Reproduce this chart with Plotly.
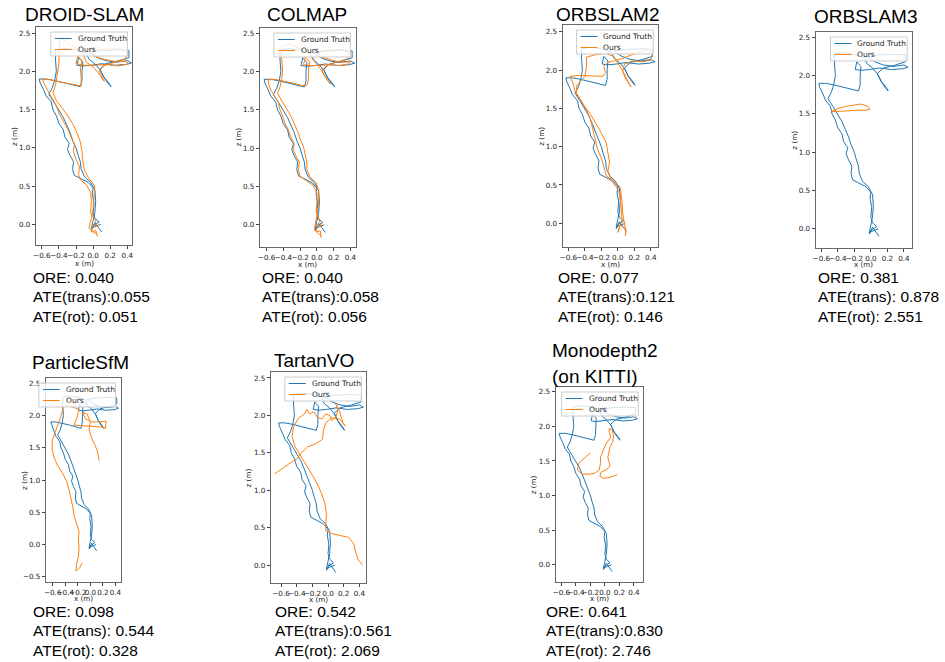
import plotly.graph_objects as go

# ---------------- data ----------------
# Ground-truth camera trajectory (x, z) in metres, shared by every panel
GT_X = [0.10, 0.06, 0.02, -0.02, 0.00, 0.07, 0.02, 0.00, 0.01, -0.01, 0.00, -0.06, -0.14, -0.22, -0.24, -0.23,
        -0.27, -0.30, -0.28, -0.33, -0.35, -0.40, -0.43, -0.47, -0.49, -0.55, -0.58, -0.62, -0.63, -0.55, -0.45,
        -0.33, -0.22, -0.15, -0.13, -0.13, -0.12, -0.17, -0.19, -0.12, -0.02, 0.10, 0.25, 0.38, 0.45, 0.40, 0.28,
        0.15, 0.05, -0.05, 0.10, 0.30, 0.42, 0.42, 0.30, 0.15, 0.08, 0.12, 0.17, 0.21, 0.19, 0.13, 0.08, 0.02,
        -0.05, -0.08, -0.20, -0.35, -0.44, -0.44, -0.43, -0.45, -0.48, -0.52, -0.46, -0.40, -0.35, -0.31, -0.27,
        -0.24, -0.20, -0.18, -0.15, -0.14, -0.10, -0.03, 0.02, 0.03, 0.02, 0.00, -0.02, 0.04, 0.09]
GT_Z = [-0.10, -0.04, 0.02, -0.07, -0.02, 0.03, 0.08, 0.15, 0.28, 0.40, 0.48, 0.55, 0.60, 0.64, 0.72, 0.82,
        0.90, 0.98, 1.06, 1.14, 1.24, 1.32, 1.42, 1.50, 1.60, 1.68, 1.76, 1.85, 1.90, 1.90, 1.88,
        1.85, 1.82, 1.80, 1.88, 2.00, 2.12, 2.18, 2.08, 2.07, 2.08, 2.10, 2.08, 2.09, 2.11, 2.14, 2.12,
        2.14, 2.18, 2.25, 2.27, 2.28, 2.27, 2.18, 2.14, 2.10, 2.03, 1.93, 1.85, 1.80, 1.84, 1.92, 2.02, 2.10,
        2.16, 2.24, 2.28, 2.30, 2.28, 2.15, 2.00, 1.88, 1.78, 1.70, 1.60, 1.50, 1.40, 1.30, 1.20,
        1.10, 1.00, 0.92, 0.82, 0.72, 0.62, 0.55, 0.45, 0.30, 0.15, 0.05, -0.05, -0.02, 0.00]

# Estimated trajectories ("Ours") per method
DROID_X = [0.05, 0.03, -0.02, 0.00, 0.05, 0.02, -0.03, -0.02, -0.03, -0.08, -0.14, -0.17, -0.16, -0.20, -0.23,
           -0.22, -0.26, -0.30, -0.35, -0.40, -0.43, -0.48, -0.53, -0.58, -0.59, -0.50, -0.38, -0.25, -0.14,
           -0.14, -0.15, -0.13, -0.18, -0.20, -0.10, 0.02, 0.15, 0.30, 0.42, 0.38, 0.25, 0.12, 0.02, -0.03, 0.12,
           0.32, 0.40, 0.38, 0.25, 0.12, 0.07, 0.10, 0.13, 0.11, 0.06, 0.00, -0.08, -0.12, -0.28, -0.38, -0.40,
           -0.40, -0.42, -0.44, -0.47, -0.43, -0.36, -0.30, -0.24, -0.19, -0.15, -0.13, -0.12, -0.10, -0.05,
           0.02, 0.01, 0.00, -0.02, -0.05, 0.00, 0.05]
DROID_Z = [-0.16, -0.08, -0.10, 0.00, -0.03, 0.06, 0.15, 0.30, 0.42, 0.52, 0.57, 0.65, 0.75, 0.85, 0.95,
           1.05, 1.15, 1.25, 1.35, 1.45, 1.55, 1.65, 1.75, 1.85, 1.90, 1.89, 1.86, 1.83, 1.81,
           1.92, 2.05, 2.14, 2.20, 2.10, 2.08, 2.08, 2.09, 2.07, 2.10, 2.13, 2.13, 2.16, 2.20, 2.28, 2.29,
           2.30, 2.25, 2.16, 2.12, 2.07, 2.00, 1.93, 1.87, 1.90, 1.98, 2.06, 2.12, 2.25, 2.35, 2.45, 2.30,
           2.10, 1.95, 1.82, 1.72, 1.62, 1.52, 1.42, 1.32, 1.20, 1.08, 0.95, 0.82, 0.70, 0.60,
           0.50, 0.35, 0.20, 0.08, -0.05, -0.10, -0.13]

COLMAP_X = [0.05, 0.04, -0.01, 0.01, 0.06, 0.02, -0.01, 0.00, 0.00, -0.05, -0.13, -0.20, -0.22, -0.21, -0.25,
            -0.28, -0.27, -0.31, -0.34, -0.38, -0.41, -0.44, -0.46, -0.51, -0.55, -0.58, -0.58, -0.50, -0.40,
            -0.28, -0.18, -0.12, -0.10, -0.10, -0.09, -0.14, -0.16, -0.08, 0.02, 0.14, 0.27, 0.38, 0.40, 0.30,
            0.18, 0.06, -0.02, 0.12, 0.30, 0.38, 0.37, 0.26, 0.13, 0.06, 0.09, 0.13, 0.16, 0.14, 0.09, 0.04,
            -0.02, -0.06, -0.20, -0.34, -0.42, -0.42, -0.41, -0.42, -0.44, -0.47, -0.42, -0.36, -0.31, -0.27,
            -0.23, -0.20, -0.16, -0.14, -0.12, -0.12, -0.08, -0.01, 0.02, 0.02, 0.01, -0.01, -0.03, 0.02, 0.05]
COLMAP_Z = [-0.17, -0.08, -0.09, 0.00, -0.02, 0.07, 0.18, 0.30, 0.42, 0.52, 0.58, 0.63, 0.72, 0.82, 0.90,
            0.98, 1.06, 1.14, 1.24, 1.32, 1.42, 1.50, 1.60, 1.68, 1.76, 1.85, 1.90, 1.90, 1.88,
            1.85, 1.82, 1.82, 1.90, 2.02, 2.13, 2.19, 2.09, 2.08, 2.08, 2.09, 2.08, 2.10, 2.13, 2.12,
            2.15, 2.19, 2.26, 2.28, 2.29, 2.25, 2.17, 2.13, 2.09, 2.02, 1.94, 1.88, 1.84, 1.87, 1.95, 2.04,
            2.12, 2.22, 2.30, 2.36, 2.33, 2.18, 2.02, 1.90, 1.80, 1.72, 1.62, 1.52, 1.42, 1.32,
            1.22, 1.12, 1.02, 0.92, 0.82, 0.72, 0.62, 0.55, 0.45, 0.32, 0.18, 0.06, -0.06, -0.12, -0.14]

ORB2_X = [0.09, 0.10, 0.03, 0.00, 0.05, 0.04, 0.03, 0.01, -0.07, -0.12, -0.10, -0.12, -0.14, -0.20, -0.27,
          -0.33, -0.40, -0.46, -0.52, -0.54, -0.58, -0.47, -0.32, -0.18, -0.15, -0.17, -0.12, -0.05, 0.05,
          0.12, 0.22, 0.34, 0.42, 0.40, 0.30, 0.18, 0.08, 0.06, 0.09, 0.13, 0.16, 0.13, 0.08, 0.02, -0.05,
          -0.15, -0.28, -0.38, -0.38, -0.40, -0.50, -0.50, -0.44, -0.38, -0.33, -0.30, -0.28, -0.25, -0.20,
          -0.17, -0.14, -0.05, 0.03, 0.05, 0.06, 0.08, 0.10]
ORB2_Z = [-0.17, -0.08, -0.02, -0.12, 0.05, 0.20, 0.32, 0.43, 0.55, 0.68, 0.80, 0.92, 1.05, 1.18, 1.30,
          1.42, 1.52, 1.62, 1.72, 1.82, 1.92, 1.93, 1.92, 1.92, 1.97, 2.05, 2.10, 2.12, 2.15,
          2.18, 2.22, 2.27, 2.22, 2.13, 2.11, 2.12, 2.08, 1.98, 1.90, 1.82, 1.78, 1.84, 1.95, 2.06, 2.18,
          2.22, 2.20, 2.17, 2.05, 1.92, 1.80, 1.70, 1.58, 1.48, 1.35, 1.22, 1.10, 0.98, 0.85,
          0.72, 0.62, 0.55, 0.47, 0.30, 0.12, 0.00, -0.12]

ORB3_X = [-0.48, -0.40, -0.30, -0.20, -0.12, -0.04, -0.01, -0.06, -0.14, -0.28, -0.40, -0.47]
ORB3_Z = [1.53, 1.57, 1.60, 1.62, 1.63, 1.60, 1.56, 1.55, 1.55, 1.54, 1.53, 1.53]

PSFM_X = [-0.13, -0.17, -0.23, -0.22, -0.19, -0.18, -0.19, -0.18, -0.22, -0.26, -0.28, -0.31, -0.34, -0.38,
          -0.44, -0.52, -0.58, -0.61, -0.61, -0.57, -0.52, -0.47, -0.44, -0.40, -0.28, -0.18, -0.22, -0.26,
          -0.12, 0.05, 0.18, 0.24, 0.25, 0.15, 0.02, -0.08, -0.12, -0.05, 0.00, -0.02, 0.02, 0.07, 0.11, 0.13,
          0.14]
PSFM_Z = [-0.28, -0.36, -0.41, -0.30, -0.18, -0.05, 0.08, 0.20, 0.32, 0.45, 0.58, 0.72, 0.85, 0.98,
          1.10, 1.22, 1.35, 1.48, 1.60, 1.72, 1.85, 1.98, 2.10, 2.16, 2.13, 2.09, 1.95, 1.85,
          1.84, 1.83, 1.82, 1.80, 1.91, 1.90, 1.90, 1.95, 2.05, 2.02, 1.90, 1.78, 1.65, 1.55, 1.45, 1.36,
          1.30]

TARTAN_X = [0.44, 0.38, 0.35, 0.33, 0.26, 0.15, 0.05, -0.03, -0.03, -0.02, -0.04, -0.08, -0.13, -0.20, -0.27,
            -0.35, -0.42, -0.46, -0.44, -0.38, -0.30, -0.27, -0.24, -0.18, -0.14, -0.08, -0.03, 0.02, 0.05,
            0.10, 0.13, 0.10, 0.15, 0.19, 0.22, 0.15, 0.05, -0.03, -0.06, -0.07, -0.16, -0.26, -0.34, -0.40,
            -0.50, -0.60, -0.68]
TARTAN_Z = [0.00, 0.08, 0.18, 0.28, 0.37, 0.40, 0.42, 0.46, 0.56, 0.68, 0.82, 0.95, 1.07, 1.20, 1.32,
            1.45, 1.58, 1.72, 1.85, 1.96, 2.02, 2.08, 2.02, 2.05, 1.98, 1.95, 2.02, 2.00, 1.93,
            1.98, 2.08, 2.15, 2.05, 1.90, 1.86, 1.95, 1.97, 1.90, 1.80, 1.68, 1.62, 1.58, 1.50, 1.42,
            1.35, 1.28, 1.22]

MONO_X = [-0.20, -0.29, -0.36, -0.38, -0.31, -0.22, -0.15, -0.08, -0.06, -0.06, -0.02, 0.02, 0.08, 0.06, 0.06,
          0.10, 0.12, 0.11, 0.07, 0.06, 0.04, 0.06, 0.07, 0.01, -0.05, -0.07, -0.02, 0.06, 0.17]
MONO_Z = [1.62, 1.54, 1.47, 1.37, 1.31, 1.31, 1.32, 1.37, 1.47, 1.56, 1.66, 1.76, 1.84, 1.92, 1.97,
          1.95, 1.86, 1.78, 1.70, 1.64, 1.55, 1.48, 1.42, 1.37, 1.34, 1.28, 1.25, 1.26, 1.30]

# panel titles (one entry per title line)
METHODS = [["DROID-SLAM"], ["COLMAP"], ["ORBSLAM2"], ["ORBSLAM3"], ["ParticleSfM"], ["TartanVO"],
           ["Monodepth2", "(on KITTI)"]]
OURS_X = [DROID_X, COLMAP_X, ORB2_X, ORB3_X, PSFM_X, TARTAN_X, MONO_X]
OURS_Z = [DROID_Z, COLMAP_Z, ORB2_Z, ORB3_Z, PSFM_Z, TARTAN_Z, MONO_Z]
ORE = ["0.040", "0.040", "0.077", "0.381", "0.098", "0.542", "0.641"]
ATE_TRANS = ["0.055", "0.058", "0.121", " 0.878", " 0.544", "0.561", "0.830"]
ATE_ROT = ["0.051", "0.056", "0.146", "2.551", "0.328", "2.069", "2.746"]

X_TICKS = [-0.6, -0.4, -0.2, 0.0, 0.2, 0.4]
X_TICK_LABELS = ["\u22120.6", "\u22120.4", "\u22120.2", "0.0", "0.2", "0.4"]
Y_TICKS = [0.0, 0.5, 1.0, 1.5, 2.0, 2.5]
Y_TICK_LABELS = ["0.0", "0.5", "1.0", "1.5", "2.0", "2.5"]
Y_TICKS_PSFM = [-0.5, 0.0, 0.5, 1.0, 1.5, 2.0, 2.5]
Y_TICK_LABELS_PSFM = ["\u22120.5", "0.0", "0.5", "1.0", "1.5", "2.0", "2.5"]

# ---------------- layout geometry (pixels) ----------------
W, H = 945, 662
# (left, right, top, bottom) of each axes box
BOXES = [(33, 130, 27, 245), (258, 354, 28, 247), (562, 658, 25, 247), (816, 913, 32, 248),
         (43, 118, 378, 582), (269, 365, 372, 583), (555, 643, 387, 582)]
X_RANGES = [(-0.67, 0.46), (-0.68, 0.46), (-0.67, 0.49), (-0.67, 0.50),
            (-0.71, 0.48), (-0.73, 0.49), (-0.68, 0.53)]
Y_RANGES = [(-0.27, 2.58), (-0.29, 2.57), (-0.31, 2.59), (-0.25, 2.57),
            (-0.58, 2.58), (-0.24, 2.58), (-0.25, 2.57)]
# title anchor (x, y of first line, anchor)
TITLE_POS = [(82, 15, "center"), (305, 15, "center"), (607, 14, "center"), (866, 16, "center"),
             (78, 362, "center"), (312, 360, "center"), (549, 350, "left")]
XLABEL_GAP = [18, 17, 17, 16, 16, 16, 16]
TEXT_POS = [(28, 277), (258, 277), (555, 277), (816, 277), (28, 611), (271, 611), (543, 611)]

BLUE = "#1f77b4"
ORANGE = "#ff7f0e"
TXT = "Liberation Sans, Arial, sans-serif"
TICKF = "DejaVu Sans, sans-serif"


def fx(p):
    return p / W


def fy(p):
    return 1 - p / H


fig = go.Figure()
shapes, annotations = [], []

for i in range(7):
    n = i + 1
    L, R, T, B = BOXES[i]
    xa, ya = ("x" if n == 1 else f"x{n}"), ("y" if n == 1 else f"y{n}")
    fig.add_trace(go.Scatter(x=GT_X, y=GT_Z, mode="lines", xaxis=xa, yaxis=ya,
                             line=dict(color=BLUE, width=1), showlegend=False, hoverinfo="skip"))
    fig.add_trace(go.Scatter(x=OURS_X[i], y=OURS_Z[i], mode="lines", xaxis=xa, yaxis=ya,
                             line=dict(color=ORANGE, width=1), showlegend=False, hoverinfo="skip"))

    yt, ytl = (Y_TICKS_PSFM, Y_TICK_LABELS_PSFM) if i == 4 else (Y_TICKS, Y_TICK_LABELS)
    common = dict(showgrid=False, zeroline=False, showline=True, mirror=True, linecolor="#666",
                  linewidth=1, ticks="outside", ticklen=3, tickwidth=1, tickcolor="#444",
                  tickfont=dict(family=TICKF, size=7.2, color="#222"), tickangle=0)
    fig.layout[f"xaxis{n}"] = dict(domain=[fx(L), fx(R)], range=list(X_RANGES[i]), anchor=ya,
                                   tickmode="array", tickvals=X_TICKS, ticktext=X_TICK_LABELS, **common)
    fig.layout[f"yaxis{n}"] = dict(domain=[fy(B), fy(T)], range=list(Y_RANGES[i]), anchor=xa,
                                   tickmode="array", tickvals=yt, ticktext=ytl, **common)

    # axis labels
    annotations.append(dict(x=fx((L + R) / 2), y=fy(B + XLABEL_GAP[i]), xref="paper", yref="paper",
                            text="x (m)", showarrow=False, font=dict(family=TICKF, size=7.2, color="#222"),
                            xanchor="center", yanchor="middle"))
    annotations.append(dict(x=fx(L - 22), y=fy((T + B) / 2), xref="paper", yref="paper", text="z (m)",
                            showarrow=False, textangle=-90, font=dict(family=TICKF, size=7.2, color="#222"),
                            xanchor="center", yanchor="middle"))

    # legend box
    lw, lh = 77, 24
    lx0, ly0 = R - 5 - lw, T + 5
    shapes.append(dict(type="rect", xref="paper", yref="paper", x0=fx(lx0), x1=fx(lx0 + lw),
                       y0=fy(ly0 + lh), y1=fy(ly0), line=dict(color="#cccccc", width=1),
                       fillcolor="rgba(255,255,255,0.8)", layer="above"))
    for k, (col, lab) in enumerate([(BLUE, "Ground Truth"), (ORANGE, "Ours")]):
        yy = ly0 + 6.5 + k * 11
        shapes.append(dict(type="line", xref="paper", yref="paper", x0=fx(lx0 + 4), x1=fx(lx0 + 21),
                           y0=fy(yy), y1=fy(yy), line=dict(color=col, width=1), layer="above"))
        annotations.append(dict(x=fx(lx0 + 25), y=fy(yy), xref="paper", yref="paper", text=lab,
                                showarrow=False, font=dict(family=TICKF, size=7.5, color="#222"),
                                xanchor="left", yanchor="middle"))

    # title (one annotation per line)
    tx, ty, tanc = TITLE_POS[i]
    for k, s in enumerate(METHODS[i]):
        annotations.append(dict(x=fx(tx), y=fy(ty + k * 26), xref="paper", yref="paper", text=s,
                                showarrow=False, font=dict(family=TXT, size=19, color="#000"),
                                xanchor=tanc, yanchor="middle"))

    # metrics
    px, py = TEXT_POS[i]
    lines = [f"ORE: {ORE[i]}", f"ATE(trans):{ATE_TRANS[i]}", f"ATE(rot): {ATE_ROT[i]}"]
    for k, s in enumerate(lines):
        annotations.append(dict(x=fx(px), y=fy(py + k * 19.5), xref="paper", yref="paper", text=s,
                                showarrow=False, font=dict(family=TXT, size=15.5, color="#000"),
                                xanchor="left", yanchor="middle"))

fig.update_layout(width=W, height=H, margin=dict(l=0, r=0, t=0, b=0), paper_bgcolor="white",
                  plot_bgcolor="white", shapes=shapes, annotations=annotations, showlegend=False)

fig.write_html("out.html")
